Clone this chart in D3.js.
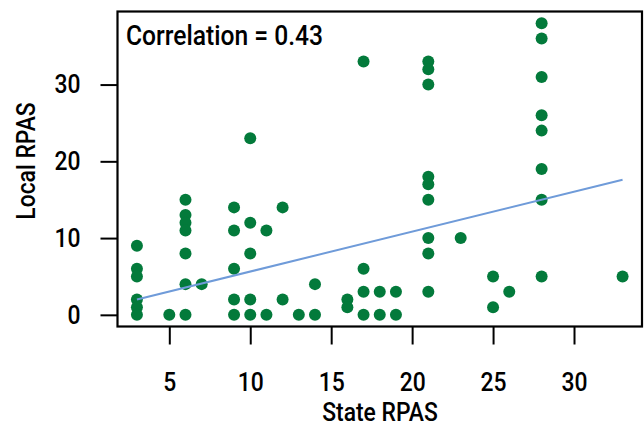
<!DOCTYPE html>
<html>
<head>
<meta charset="utf-8">
<script src="https://cdn.jsdelivr.net/npm/d3@7"></script>
<style>
  html, body { margin: 0; padding: 0; background: #fff; }
  svg text { font-family: "Roboto", "Liberation Sans", sans-serif; font-weight: 500; fill: #000; }
</style>
</head>
<body>
<svg id="chart" width="644" height="428"></svg>
<script>
// State vs. local RPAS scores, one entry per observation
const stateRPAS = [
  3, 3, 3, 3, 3, 3,
  5,
  6, 6, 6, 6, 6, 6, 6,
  7,
  9, 9, 9, 9, 9,
  10, 10, 10, 10, 10,
  11, 11,
  12, 12,
  13,
  14, 14,
  16, 16,
  17, 17, 17, 17,
  18, 18,
  19, 19,
  21, 21, 21, 21, 21, 21, 21, 21, 21,
  23,
  25, 25,
  26,
  28, 28, 28, 28, 28, 28, 28, 28,
  33
];
const localRPAS = [
  9, 6, 5, 2, 1, 0,
  0,
  15, 13, 12, 11, 8, 4, 0,
  4,
  14, 11, 6, 2, 0,
  23, 12, 8, 2, 0,
  11, 0,
  14, 2,
  0,
  4, 0,
  2, 1,
  33, 6, 3, 0,
  3, 0,
  3, 0,
  33, 32, 30, 18, 17, 15, 10, 8, 3,
  10,
  5, 1,
  3,
  38, 36, 31, 26, 24, 19, 15, 5,
  5
];

// Linear fit drawn across the observed state range
const fitIntercept = 0.44;
const fitSlope = 0.52;
const correlationLabel = "Correlation = 0.43";

const xTicks = [5, 10, 15, 20, 25, 30];
const yTicks = [0, 10, 20, 30];
const xTitle = "State RPAS";
const yTitle = "Local RPAS";

const svg = d3.select("#chart");
const plotLeft = 117.5, plotRight = 642, plotTop = 11.5, plotBottom = 326.5;

// Domains padded by 4% on each side of the data range
const xExt = d3.extent(stateRPAS), yExt = d3.extent(localRPAS);
const xPad = (xExt[1] - xExt[0]) * 0.04, yPad = (yExt[1] - yExt[0]) * 0.04;
const x = d3.scaleLinear().domain([xExt[0] - xPad, xExt[1] + xPad]).range([plotLeft, plotRight]);
const y = d3.scaleLinear().domain([yExt[0] - yPad, yExt[1] + yPad]).range([plotBottom, plotTop]);

const fontSize = 26;
const narrow = 0.88;   // horizontal squeeze giving a condensed face

// Axes
const xAxis = svg.append("g")
  .attr("transform", `translate(0,${plotBottom})`)
  .call(d3.axisBottom(x).tickValues(xTicks).tickSize(18).tickPadding(28).tickFormat(d3.format("d")));
const yAxis = svg.append("g")
  .attr("transform", `translate(${plotLeft},0)`)
  .call(d3.axisLeft(y).tickValues(yTicks).tickSize(17).tickFormat(d3.format("d")));

[xAxis, yAxis].forEach(g => {
  g.select(".domain").remove();
  g.selectAll(".tick line").attr("stroke", "#000").attr("stroke-width", 2);
  g.selectAll(".tick text")
    .style("font-size", fontSize + "px")
    .attr("fill", "#000")
    .attr("transform", `scale(${narrow},1)`);
});
yAxis.selectAll(".tick text").attr("x", -37 / narrow);

// Points
svg.append("g")
  .selectAll("circle")
  .data(stateRPAS.map((s, i) => ({ s, l: localRPAS[i] })))
  .join("circle")
  .attr("cx", d => x(d.s))
  .attr("cy", d => y(d.l))
  .attr("r", 6)
  .attr("fill", "#037a3b");

// Fitted line
const fitX = d3.extent(stateRPAS);
svg.append("line")
  .attr("x1", x(fitX[0])).attr("y1", y(fitIntercept + fitSlope * fitX[0]))
  .attr("x2", x(fitX[1])).attr("y2", y(fitIntercept + fitSlope * fitX[1]))
  .attr("stroke", "#6f9bd9")
  .attr("stroke-width", 2);

// Plot frame
svg.append("rect")
  .attr("x", plotLeft).attr("y", plotTop)
  .attr("width", plotRight - plotLeft).attr("height", plotBottom - plotTop)
  .attr("fill", "none").attr("stroke", "#000").attr("stroke-width", 2.2);

// Annotation and titles
svg.append("text")
  .attr("transform", `translate(126,45) scale(${narrow},1)`)
  .style("font-size", "28px")
  .text(correlationLabel);

svg.append("text")
  .attr("transform", `translate(380,421) scale(${narrow},1)`)
  .attr("text-anchor", "middle")
  .style("font-size", fontSize + "px")
  .text(xTitle);

svg.append("text")
  .attr("transform", `translate(35,161) rotate(-90) scale(${narrow},1)`)
  .attr("text-anchor", "middle")
  .style("font-size", fontSize + "px")
  .text(yTitle);
</script>
</body>
</html>
